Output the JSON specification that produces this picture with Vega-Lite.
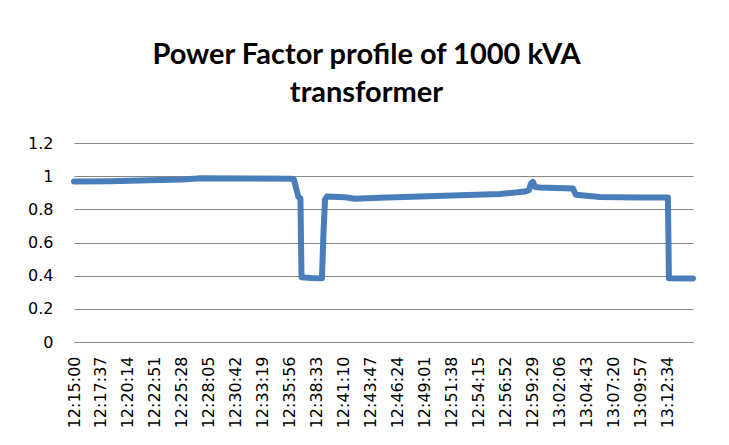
{
  "$schema": "https://vega.github.io/schema/vega-lite/v6.json",
  "width": 619,
  "height": 199,
  "autosize": {"type": "none"},
  "padding": {"left": 74, "top": 143, "right": 36, "bottom": 103},
  "background": "white",
  "title": {
    "text": ["Power Factor profile of 1000 kVA", "transformer"],
    "font": "Lato",
    "fontSize": 29,
    "fontWeight": "bold",
    "color": "#000000",
    "lineHeight": 38,
    "anchor": "middle",
    "frame": "group",
    "dx": -17,
    "offset": 27
  },
  "data": {
    "values": [
      {"time": "2020-01-01T12:15:00", "pf": 0.968},
      {"time": "2020-01-01T12:18:29", "pf": 0.970},
      {"time": "2020-01-01T12:22:22", "pf": 0.975},
      {"time": "2020-01-01T12:25:30", "pf": 0.980},
      {"time": "2020-01-01T12:26:55", "pf": 0.986},
      {"time": "2020-01-01T12:27:13", "pf": 0.988},
      {"time": "2020-01-01T12:32:03", "pf": 0.986},
      {"time": "2020-01-01T12:36:02", "pf": 0.984},
      {"time": "2020-01-01T12:36:19", "pf": 0.982},
      {"time": "2020-01-01T12:36:31", "pf": 0.930},
      {"time": "2020-01-01T12:36:45", "pf": 0.875},
      {"time": "2020-01-01T12:36:57", "pf": 0.865},
      {"time": "2020-01-01T12:37:03", "pf": 0.390},
      {"time": "2020-01-01T12:38:00", "pf": 0.386},
      {"time": "2020-01-01T12:39:02", "pf": 0.385},
      {"time": "2020-01-01T12:39:11", "pf": 0.660},
      {"time": "2020-01-01T12:39:20", "pf": 0.860},
      {"time": "2020-01-01T12:39:31", "pf": 0.877},
      {"time": "2020-01-01T12:41:16", "pf": 0.873},
      {"time": "2020-01-01T12:42:14", "pf": 0.864},
      {"time": "2020-01-01T12:44:39", "pf": 0.870},
      {"time": "2020-01-01T12:48:32", "pf": 0.878},
      {"time": "2020-01-01T12:52:25", "pf": 0.885},
      {"time": "2020-01-01T12:56:17", "pf": 0.892},
      {"time": "2020-01-01T12:58:43", "pf": 0.907},
      {"time": "2020-01-01T12:59:06", "pf": 0.915},
      {"time": "2020-01-01T12:59:17", "pf": 0.955},
      {"time": "2020-01-01T12:59:29", "pf": 0.966},
      {"time": "2020-01-01T12:59:41", "pf": 0.935},
      {"time": "2020-01-01T13:00:10", "pf": 0.932},
      {"time": "2020-01-01T13:03:22", "pf": 0.925},
      {"time": "2020-01-01T13:03:39", "pf": 0.888},
      {"time": "2020-01-01T13:05:59", "pf": 0.875},
      {"time": "2020-01-01T13:09:51", "pf": 0.872},
      {"time": "2020-01-01T13:12:34", "pf": 0.872},
      {"time": "2020-01-01T13:12:40", "pf": 0.385},
      {"time": "2020-01-01T13:15:00", "pf": 0.383}
    ]
  },
  "mark": {
    "type": "line",
    "color": "#4a7ebb",
    "strokeWidth": 6,
    "strokeCap": "round",
    "strokeJoin": "round",
    "clip": false
  },
  "encoding": {
    "x": {
      "field": "time",
      "type": "temporal",
      "scale": {
        "domain": [
          {"year": 2020, "month": 1, "date": 1, "hours": 12, "minutes": 15, "seconds": 0},
          {"year": 2020, "month": 1, "date": 1, "hours": 13, "minutes": 15, "seconds": 0}
        ],
        "nice": false
      },
      "axis": {
        "title": null,
        "format": "%H:%M:%S",
        "labelAngle": -90,
        "labelAlign": "right",
        "labelBaseline": "middle",
        "labelFont": "DejaVu Sans",
        "labelFontSize": 16,
        "labelColor": "#000000",
        "labelPadding": 14,
        "labelOverlap": false,
        "labelFlush": false,
        "ticks": false,
        "grid": false,
        "domain": true,
        "domainColor": "#868686",
        "domainWidth": 1,
        "values": [
          {"year": 2020, "month": 1, "date": 1, "hours": 12, "minutes": 15, "seconds": 0},
          {"year": 2020, "month": 1, "date": 1, "hours": 12, "minutes": 17, "seconds": 37},
          {"year": 2020, "month": 1, "date": 1, "hours": 12, "minutes": 20, "seconds": 14},
          {"year": 2020, "month": 1, "date": 1, "hours": 12, "minutes": 22, "seconds": 51},
          {"year": 2020, "month": 1, "date": 1, "hours": 12, "minutes": 25, "seconds": 28},
          {"year": 2020, "month": 1, "date": 1, "hours": 12, "minutes": 28, "seconds": 5},
          {"year": 2020, "month": 1, "date": 1, "hours": 12, "minutes": 30, "seconds": 42},
          {"year": 2020, "month": 1, "date": 1, "hours": 12, "minutes": 33, "seconds": 19},
          {"year": 2020, "month": 1, "date": 1, "hours": 12, "minutes": 35, "seconds": 56},
          {"year": 2020, "month": 1, "date": 1, "hours": 12, "minutes": 38, "seconds": 33},
          {"year": 2020, "month": 1, "date": 1, "hours": 12, "minutes": 41, "seconds": 10},
          {"year": 2020, "month": 1, "date": 1, "hours": 12, "minutes": 43, "seconds": 47},
          {"year": 2020, "month": 1, "date": 1, "hours": 12, "minutes": 46, "seconds": 24},
          {"year": 2020, "month": 1, "date": 1, "hours": 12, "minutes": 49, "seconds": 1},
          {"year": 2020, "month": 1, "date": 1, "hours": 12, "minutes": 51, "seconds": 38},
          {"year": 2020, "month": 1, "date": 1, "hours": 12, "minutes": 54, "seconds": 15},
          {"year": 2020, "month": 1, "date": 1, "hours": 12, "minutes": 56, "seconds": 52},
          {"year": 2020, "month": 1, "date": 1, "hours": 12, "minutes": 59, "seconds": 29},
          {"year": 2020, "month": 1, "date": 1, "hours": 13, "minutes": 2, "seconds": 6},
          {"year": 2020, "month": 1, "date": 1, "hours": 13, "minutes": 4, "seconds": 43},
          {"year": 2020, "month": 1, "date": 1, "hours": 13, "minutes": 7, "seconds": 20},
          {"year": 2020, "month": 1, "date": 1, "hours": 13, "minutes": 9, "seconds": 57},
          {"year": 2020, "month": 1, "date": 1, "hours": 13, "minutes": 12, "seconds": 34}
        ]
      }
    },
    "y": {
      "field": "pf",
      "type": "quantitative",
      "scale": {"domain": [0, 1.2], "nice": false, "zero": true},
      "axis": {
        "title": null,
        "values": [0, 0.2, 0.4, 0.6, 0.8, 1, 1.2],
        "format": "~g",
        "labelFont": "DejaVu Sans",
        "labelFontSize": 16,
        "labelColor": "#000000",
        "labelPadding": 21,
        "ticks": false,
        "domain": false,
        "grid": true,
        "gridColor": "#868686",
        "gridWidth": 1,
        "gridOpacity": 1
      }
    }
  },
  "config": {
    "view": {"stroke": null}
  }
}
